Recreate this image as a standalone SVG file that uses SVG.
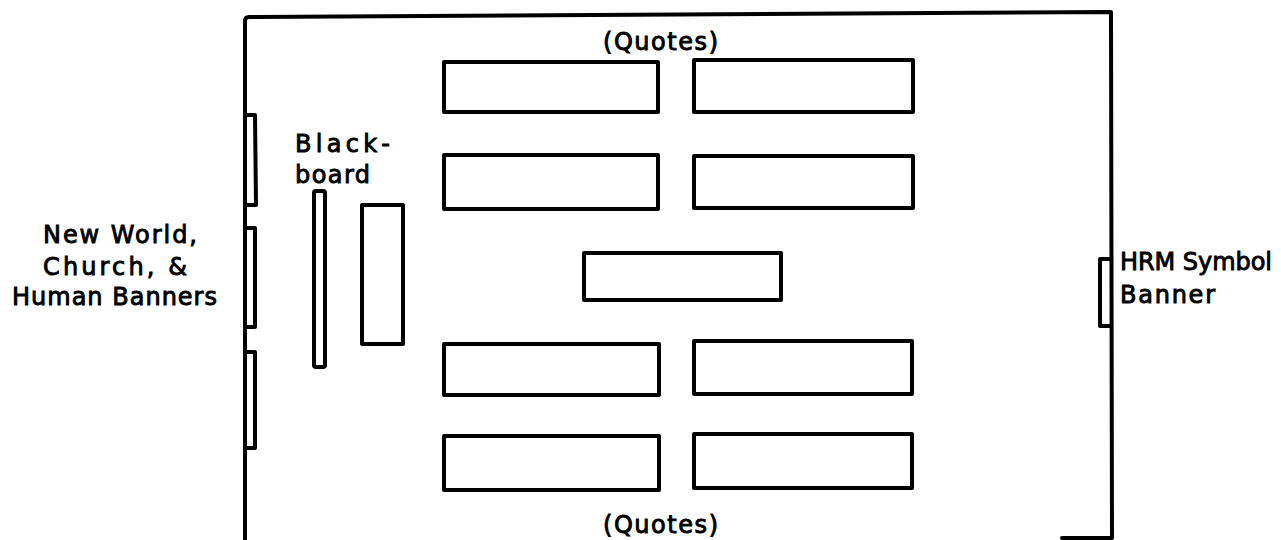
<svg xmlns="http://www.w3.org/2000/svg" width="1281" height="540" viewBox="0 0 1281 540">
<style>
.ln{fill:none;stroke:#000;stroke-width:4;stroke-linejoin:round;stroke-linecap:round}
.dk{fill:#fff;stroke:#000;stroke-width:4;stroke-linejoin:round}
.tx{font-family:"DejaVu Sans","Liberation Sans",sans-serif;font-size:24px;fill:#000;stroke:#000;stroke-width:0.9}
</style>
<rect width="1281" height="540" fill="#fff"/>
<g id="room">
<path class="ln" d="M245,540 L245,21 Q245,17 249,17 L1111,12 L1112,538 L1062,538"/>
</g>
<g id="left-banners">
<path class="ln" d="M245,115 L255,115 L256,205 L245,205"/>
<path class="ln" d="M245,228 L255,228 L255,327 L245,327"/>
<path class="ln" d="M245,352 L255,352 L255,448 L245,448"/>
</g>
<g id="hrm-banner">
<path class="ln" d="M1111,259 L1100,259 L1100,326 L1111,326"/>
</g>
<g id="blackboard">
<rect class="dk" x="314" y="191" width="11" height="176" rx="2"/>
</g>
<g id="side-table">
<rect class="dk" x="362" y="205" width="41" height="139"/>
</g>
<g id="desks">
<rect class="dk" x="444" y="62" width="214" height="50"/>
<rect class="dk" x="694" y="60" width="219" height="52"/>
<rect class="dk" x="444" y="155" width="214" height="54"/>
<rect class="dk" x="694" y="156" width="219" height="52"/>
<rect class="dk" x="584" y="253" width="197" height="47"/>
<rect class="dk" x="444" y="344" width="215" height="51"/>
<rect class="dk" x="694" y="341" width="218" height="53"/>
<rect class="dk" x="444" y="436" width="215" height="54"/>
<rect class="dk" x="694" y="434" width="218" height="54"/>
</g>
<g id="labels">
<text class="tx" x="603" y="50" textLength="115" lengthAdjust="spacing">(Quotes)</text>
<text class="tx" x="603" y="533" textLength="115" lengthAdjust="spacing">(Quotes)</text>
<text class="tx" x="295" y="152" textLength="95" lengthAdjust="spacing">Black-</text>
<text class="tx" x="295" y="183" textLength="75" lengthAdjust="spacing">board</text>
<text class="tx" x="43" y="243" textLength="154" lengthAdjust="spacing">New World,</text>
<text class="tx" x="43" y="275" textLength="144" lengthAdjust="spacing">Church, &amp;</text>
<text class="tx" x="12" y="305" textLength="205" lengthAdjust="spacing">Human Banners</text>
<text class="tx" x="1120" y="270" textLength="152" lengthAdjust="spacing">HRM Symbol</text>
<text class="tx" x="1120" y="303" textLength="95" lengthAdjust="spacing">Banner</text>
</g>
</svg>
